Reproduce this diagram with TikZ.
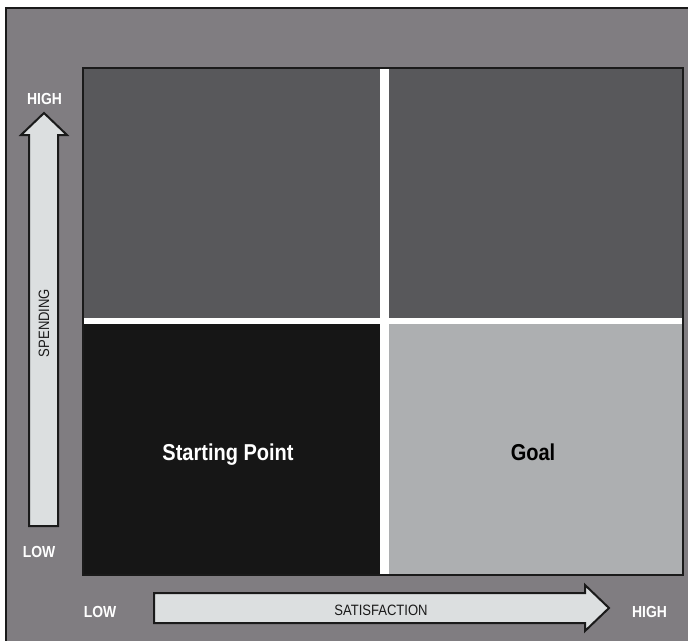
\documentclass[tikz,border=0pt]{standalone}
\usepackage{fontspec}
\setmainfont{Liberation Sans}
\newfontfamily\condfont[FakeStretch=0.87]{Liberation Sans}
\definecolor{bggray}{HTML}{807D81}
\definecolor{quaddark}{HTML}{58585B}
\definecolor{quadblack}{HTML}{161616}
\definecolor{quadlight}{HTML}{ADAFB1}
\definecolor{arrowfill}{HTML}{DCDFE0}
\definecolor{edgecol}{HTML}{1A1A1A}
\begin{document}
\begin{tikzpicture}[x=1pt,y=-1pt,
  axislabel/.style={font=\condfont\bfseries\fontsize{16}{16}\selectfont, text=white, anchor=base, inner sep=0pt},
  axisname/.style={font=\condfont\fontsize{15}{15}\selectfont, text=edgecol, anchor=base, inner sep=0pt},
  quadlabel/.style={font=\condfont\bfseries\fontsize{23}{23}\selectfont, anchor=base, inner sep=0pt},
  arrowshape/.style={fill=arrowfill, draw=edgecol, line width=2pt, line join=miter}]
\useasboundingbox (0,0) rectangle (688,640);
\fill[white] (0,0) rectangle (688,640);
% outer panel
\draw[fill=bggray, draw=edgecol, line width=1.6pt] (6,8) rectangle (695,650);
% grid
\fill[white] (83,68) rectangle (683,575);
\fill[quaddark] (83,68) rectangle (380,318);
\fill[quaddark] (389,68) rectangle (683,318);
\fill[quadblack] (83,324) rectangle (380,575);
\fill[quadlight] (389,324) rectangle (683,575);
\draw[draw=edgecol, line width=1.6pt] (83,68) rectangle (683,575);
% vertical arrow
\draw[arrowshape] (29,526) -- (29,135) -- (21,135) -- (44,113) -- (67,135) -- (58,135) -- (58,526) -- cycle;
% horizontal arrow
\draw[arrowshape] (154,593) -- (585,593) -- (585,585) -- (609,608) -- (585,631) -- (585,623) -- (154,623) -- cycle;
% labels
\node[axislabel] (yhigh) at (44.5,104) {HIGH};
\node[axislabel] (ylow) at (39,557) {LOW};
\node[axislabel] (xlow) at (100,617) {LOW};
\node[axislabel] (xhigh) at (649.5,617) {HIGH};
\node[axisname] (xname) at (381,615.5) {SATISFACTION};
\node[axisname, rotate=90] (yname) at (49,323) {SPENDING};
\node[quadlabel, text=white] (start) at (228,460) {Starting Point};
\node[quadlabel, text=black] (goal) at (533,460) {Goal};
\end{tikzpicture}
\end{document}
